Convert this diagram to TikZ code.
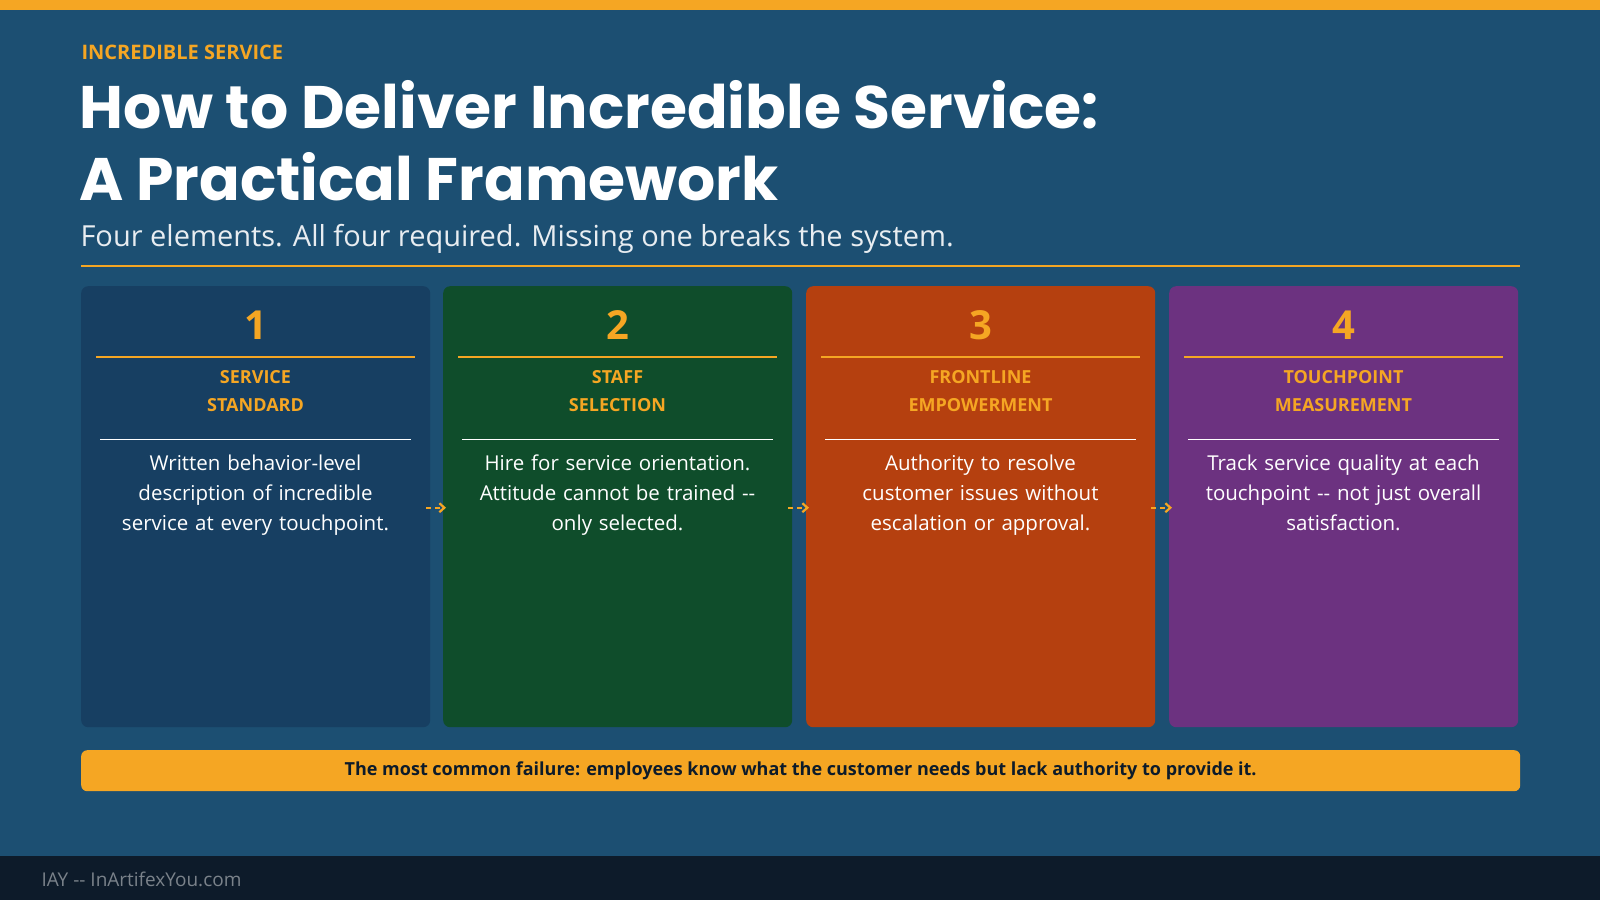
\documentclass[tikz,border=0pt]{standalone}
\usepackage{fontspec}
\setmainfont{Open Sans}
\newfontfamily\titlef{Poppins}
\usetikzlibrary{arrows.meta}
\definecolor{bg}{HTML}{1C4F72}
\definecolor{orng}{HTML}{F5A623}
\definecolor{cA}{HTML}{173F62}
\definecolor{cB}{HTML}{0F4D2B}
\definecolor{cC}{HTML}{B5400F}
\definecolor{cD}{HTML}{6C3280}
\definecolor{foot}{HTML}{0D1B2A}
\tikzset{
 card/.style={fill=#1,rounded corners=7pt,minimum width=349pt,minimum height=441pt,anchor=north west,inner sep=0pt},
 num/.style={text=orng,font=\fontsize{40}{44}\selectfont\bfseries},
 head/.style={text=orng,font=\fontsize{18}{27.5}\selectfont\bfseries,align=center},
 body/.style={text=white,font=\fontsize{20.5}{30}\selectfont,align=center,text width=340pt},
 flow/.style={orng,line width=2.2pt,dash pattern=on 5pt off 4pt,-{Straight Barb[length=5pt,width=9pt]}}
}
\begin{document}
\begin{tikzpicture}[x=1pt,y=-1pt]
\useasboundingbox (0,0) rectangle (1600,900);
\fill[bg] (0,0) rectangle (1600,900);
\fill[orng] (0,0) rectangle (1600,10);
\fill[foot] (0,856) rectangle (1600,900);
\node[anchor=west,text=orng,font=\fontsize{20}{24}\selectfont\bfseries] (kick) at (78,52) {INCREDIBLE SERVICE};
\node[anchor=north west,text=white,font=\titlef\fontsize{60}{72}\selectfont\bfseries,align=left,inner sep=0pt] (title) at (79,80) {How to Deliver Incredible Service:\\A Practical Framework};
\node[anchor=west,text=white!90!bg,font=\fontsize{29}{34}\selectfont] (sub) at (77,239) {Four elements. All four required. Missing one breaks the system.};
\draw[orng,line width=2.5pt] (81,266) -- (1520,266);
\foreach \i/\x/\c/\n/\ha/\hb/\bd in {
 1/81/cA/1/SERVICE/STANDARD/{Written behavior-level\\description of incredible\\service at every touchpoint.},
 2/443/cB/2/STAFF/SELECTION/{Hire for service orientation.\\Attitude cannot be trained -{}-\\only selected.},
 3/806/cC/3/FRONTLINE/EMPOWERMENT/{Authority to resolve\\customer issues without\\escalation or approval.},
 4/1169/cD/4/TOUCHPOINT/MEASUREMENT/{Track service quality at each\\touchpoint -{}- not just overall\\satisfaction.}}{
 \node[card=\c] (b\i) at (\x,286) {};
 \node[num] (n\i) at (\x+174.5,325) {\n};
 \draw[orng,line width=1.3pt] (\x+15,357) -- (\x+334,357);
 \node[head] (h\i) at (\x+174.5,391) {\ha\\\hb};
 \draw[white,line width=0.8pt] (\x+19,439) -- (\x+330,439);
 \node[body,anchor=north] (t\i) at (\x+174.5,451) {\bd};
}
\draw[flow] ([xshift=-4pt,yshift=-1pt]b1.east) -- ([xshift=3pt,yshift=-1pt]b2.west);
\draw[flow] ([xshift=-4pt,yshift=-1pt]b2.east) -- ([xshift=3pt,yshift=-1pt]b3.west);
\draw[flow] ([xshift=-4pt,yshift=-1pt]b3.east) -- ([xshift=3pt,yshift=-1pt]b4.west);
\node[fill=orng,rounded corners=6pt,minimum width=1439pt,minimum height=41pt,anchor=north west,inner sep=0pt,font=\fontsize{18}{22}\selectfont\bfseries,text=foot] (banner) at (81,750) {The most common failure: employees know what the customer needs but lack authority to provide it.};
\node[anchor=west,text=white!45!foot,font=\fontsize{19}{22}\selectfont] (footer) at (38,879) {IAY -{}- InArtifexYou.com};
\end{tikzpicture}
\end{document}
